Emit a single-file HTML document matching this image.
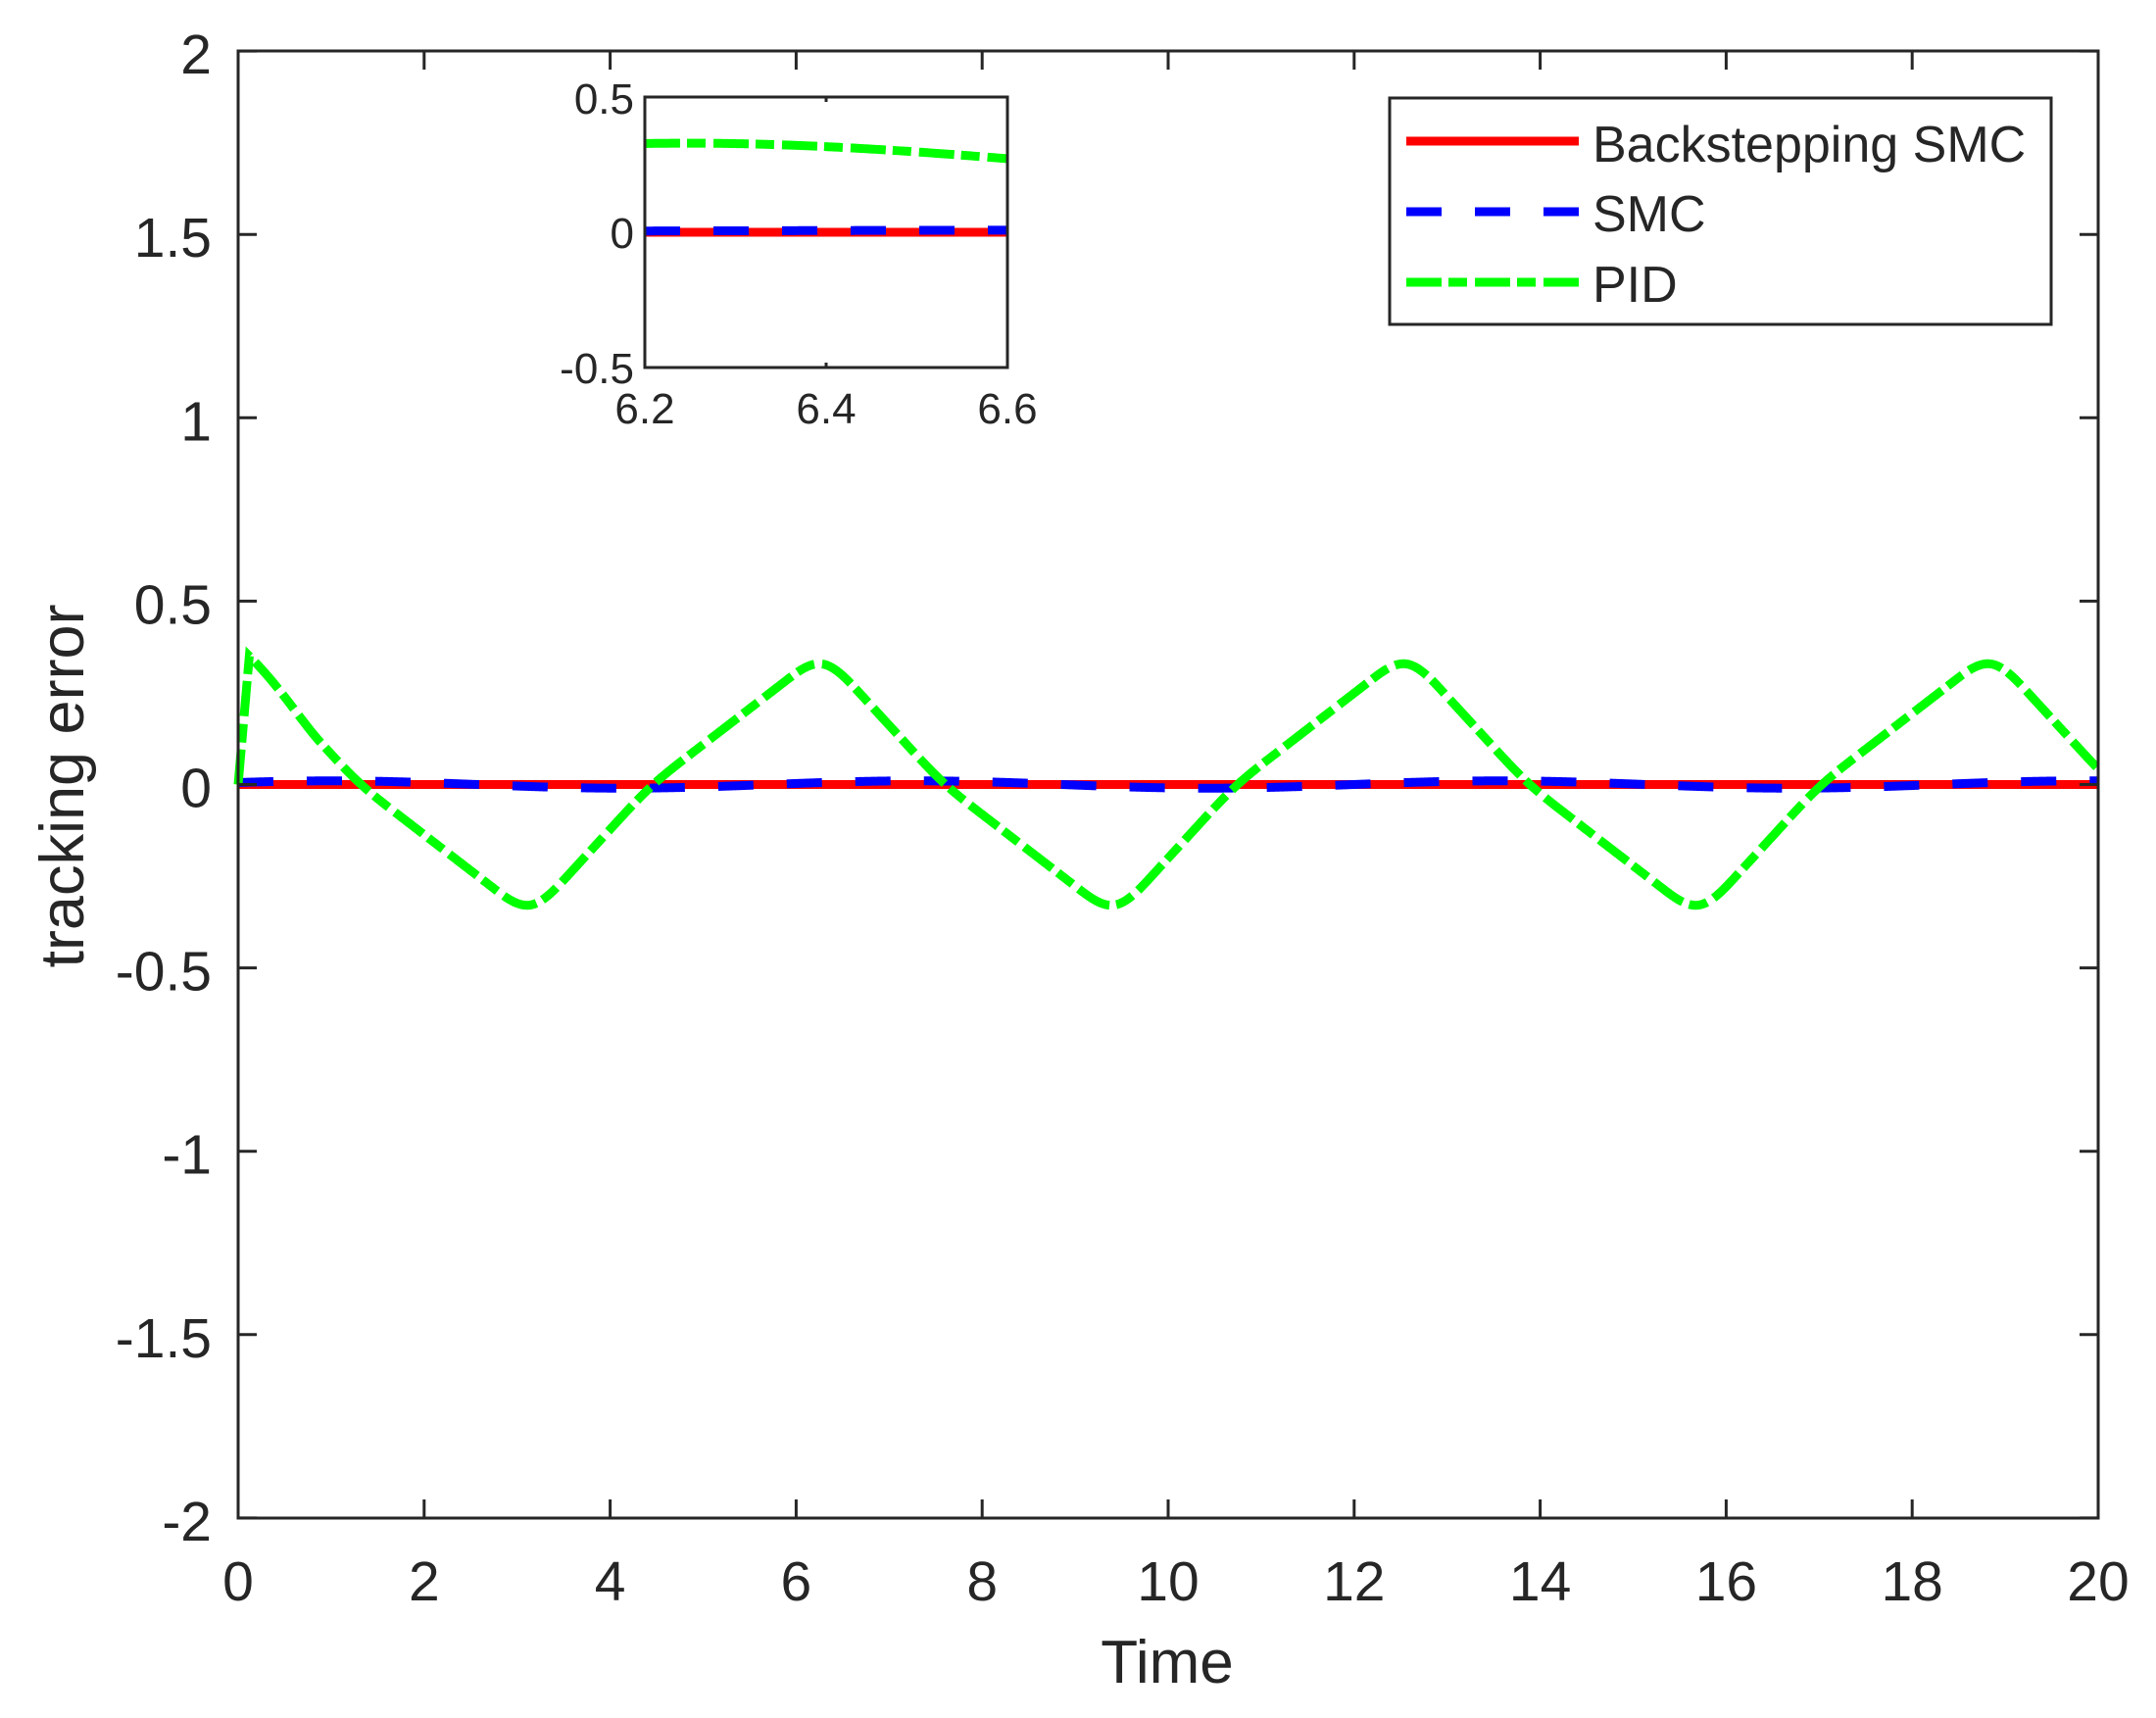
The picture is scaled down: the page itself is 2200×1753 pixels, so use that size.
<!DOCTYPE html>
<html><head><style>html,body{margin:0;padding:0;background:#fff}svg{display:block}</style></head>
<body>
<svg id="s" width="2200" height="1753" viewBox="0 0 2200 1753" xmlns="http://www.w3.org/2000/svg" font-family="Liberation Sans, Arial, sans-serif" fill="#262626">
<rect width="2200" height="1753" fill="#fff"/>
<g id="main"></g>
<rect x="243" y="52" width="1898" height="1497" fill="none" stroke="#262626" stroke-width="3"/>
<g id="ticks" stroke="#262626" stroke-width="3"></g>
<g id="labels" font-size="57"></g>
<text x="1191" y="1717" font-size="62" text-anchor="middle">Time</text>
<text transform="translate(85,802) rotate(-90)" font-size="63" text-anchor="middle">tracking error</text>
<!-- inset -->
<rect x="658" y="99" width="370" height="276" fill="#fff"/>
<g id="inset"></g>
<rect x="658" y="99" width="370" height="276" fill="none" stroke="#262626" stroke-width="3"/>
<line x1="843" y1="99" x2="843" y2="104" stroke="#262626" stroke-width="3"/>
<line x1="843" y1="375" x2="843" y2="370" stroke="#262626" stroke-width="3"/>
<g font-size="44">
<text x="647" y="116" text-anchor="end">0.5</text>
<text x="647" y="253" text-anchor="end">0</text>
<text x="647" y="391" text-anchor="end">-0.5</text>
<text x="658" y="432" text-anchor="middle">6.2</text>
<text x="843" y="432" text-anchor="middle">6.4</text>
<text x="1028" y="432" text-anchor="middle">6.6</text>
</g>
<!-- legend -->
<rect x="1418" y="100" width="675" height="231" fill="#fff" stroke="#262626" stroke-width="3"/>
<line x1="1435" y1="144" x2="1611" y2="144" stroke="#ff0000" stroke-width="9"/>
<line x1="1435" y1="216" x2="1611" y2="216" stroke="#0000ff" stroke-width="9" stroke-dasharray="36,34"/>
<line x1="1435" y1="288" x2="1611" y2="288" stroke="#00ff00" stroke-width="9" stroke-dasharray="36,7,19,8"/>
<g font-size="52">
<text x="1625" y="165">Backstepping SMC</text>
<text x="1625" y="236">SMC</text>
<text x="1625" y="308">PID</text>
</g>
</svg>
<script>
var NS="http://www.w3.org/2000/svg";
function X(t){return 243+t*94.9}
function Y(v){return 800.5-v*374.2}
var P=2*Math.PI;
var kt=[0,1.3,Math.PI,Math.PI+1.3,P], kv=[0.36,0,-0.36,0,0.36];
function pl(t){var u=((t%P)+P)%P;for(var i=0;i<4;i++){if(u<=kt[i+1]){var f=(u-kt[i])/(kt[i+1]-kt[i]);return kv[i]+f*(kv[i+1]-kv[i]);}}return 0.36;}
function sm(t){var s=0,n=0;for(var k=-15;k<=15;k++){s+=pl(t+k*0.025)*(16-Math.abs(k));n+=16-Math.abs(k);}return s/n;}
function pid(t){
  if(t<0.12) return 0.35*t/0.12;
  var v=sm(t);
  if(t<0.9){var w=(t-0.12)/0.78;w=w*w*(3-2*w);var lin=0.35-(t-0.12)*0.25;return lin*(1-w)+v*w;}
  return v;
}
function smc(t){return 0.01*Math.cos(t-1.0);}
function path(g,d,col,dash){var p=document.createElementNS(NS,"path");p.setAttribute("d",d);p.setAttribute("fill","none");p.setAttribute("stroke",col);p.setAttribute("stroke-width","9");if(dash)p.setAttribute("stroke-dasharray",dash);document.getElementById(g).appendChild(p);}
var d1="M"+X(0)+","+Y(0)+" L"+X(20)+","+Y(0);
var d2="",d3="";
for(var i=0;i<=2000;i++){var t=i*0.01;d2+=(i?"L":"M")+X(t).toFixed(2)+","+Y(smc(t)).toFixed(2);d3+=(i?"L":"M")+X(t).toFixed(2)+","+Y(pid(t)).toFixed(2);}
path("main",d1,"#ff0000");path("main",d2,"#0000ff","36,34");path("main",d3,"#00ff00","36,7,19,8");
function XI(t){return 658+(t-6.2)*925}function YI(v){return 237-v*276}
var e2="",e3="";
for(var i=0;i<=200;i++){var t=6.2+i*0.002;e2+=(i?"L":"M")+XI(t).toFixed(2)+","+YI(smc(t)).toFixed(2);e3+=(i?"L":"M")+XI(t).toFixed(2)+","+YI(pid(t)).toFixed(2);}
path("inset","M658,237L1028,237","#ff0000");path("inset",e2,"#0000ff","36,34");path("inset",e3,"#00ff00","36,7,19,8");
var tk=document.getElementById("ticks"),lb=document.getElementById("labels");
function ln(a,b,c,d){var l=document.createElementNS(NS,"line");l.setAttribute("x1",a);l.setAttribute("y1",b);l.setAttribute("x2",c);l.setAttribute("y2",d);tk.appendChild(l);}
function tx(x,y,s,a){var t=document.createElementNS(NS,"text");t.setAttribute("x",x);t.setAttribute("y",y);t.setAttribute("text-anchor",a);t.textContent=s;lb.appendChild(t);}
for(var k=0;k<=10;k++){var x=X(2*k);ln(x,1549,x,1530);ln(x,52,x,71);tx(x,1633,String(2*k),"middle");}
for(var k=0;k<=8;k++){var v=-2+0.5*k,y=Y(v);ln(243,y,262,y);ln(2141,y,2122,y);tx(216,y+23,String(v),"end");}
</script>
</body></html>
